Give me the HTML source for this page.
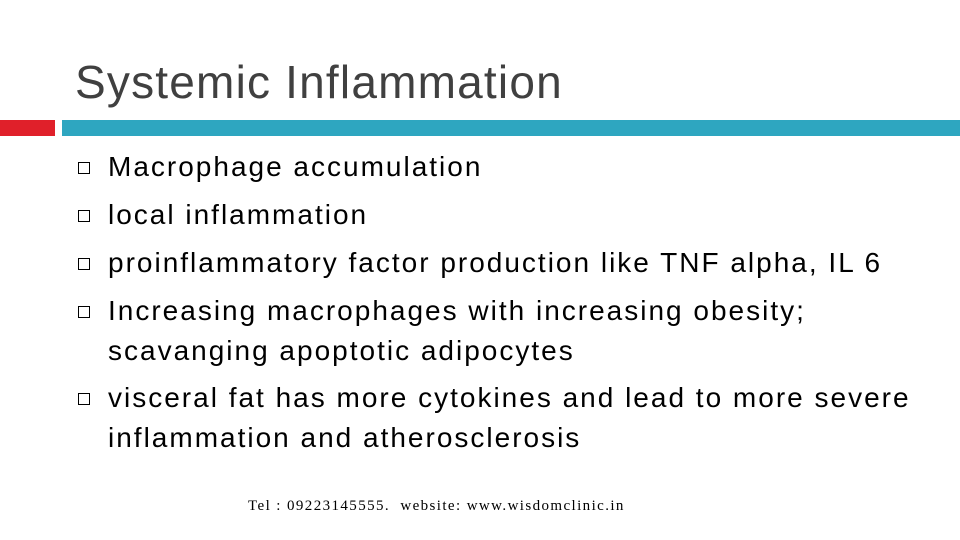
<!DOCTYPE html>
<html><head><meta charset="utf-8"><style>
body{margin:0;width:960px;height:540px;background:#fff;position:relative;overflow:hidden;font-family:"Liberation Sans",sans-serif}
.t{position:absolute;left:75px;top:55px;font-size:46px;color:#404040;white-space:nowrap;letter-spacing:1.2px}
.bar{position:absolute;top:120px;height:16px}
.li{position:absolute;left:108px;font-size:28px;color:#000;white-space:nowrap;line-height:40px;letter-spacing:2.0px}
.sq{position:absolute;left:78px;width:10px;height:10px;border:1.5px solid #000}
.f{position:absolute;left:248px;top:498px;font-size:15px;color:#000;white-space:nowrap;font-family:"Liberation Serif",serif;letter-spacing:1.4px}
</style></head><body>
<div class="t">Systemic Inflammation</div>
<div class="bar" style="left:0;width:55px;background:#e0202a"></div>
<div class="bar" style="left:62px;width:898px;background:#2ea6c0"></div>

<div class="sq" style="top:162px"></div>
<div class="li" style="top:147px">Macrophage accumulation</div>
<div class="sq" style="top:210px"></div>
<div class="li" style="top:195px">local inflammation</div>
<div class="sq" style="top:258px"></div>
<div class="li" style="top:243px">proinflammatory factor production like TNF alpha, IL 6</div>
<div class="sq" style="top:306px"></div>
<div class="li" style="top:291px">Increasing macrophages with increasing obesity;<br>scavanging apoptotic adipocytes</div>
<div class="sq" style="top:393px"></div>
<div class="li" style="top:378px">visceral fat has more cytokines and lead to more severe<br>inflammation and atherosclerosis</div>

<div class="f">Tel : 09223145555.&nbsp; website: www.wisdomclinic.in</div>
</body></html>
